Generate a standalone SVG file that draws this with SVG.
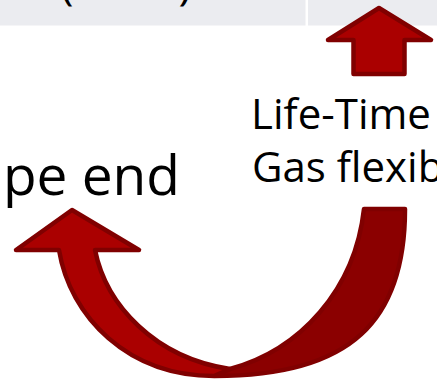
<svg xmlns="http://www.w3.org/2000/svg" width="437" height="383" viewBox="0 0 437 383">
  <style>
    .band { fill: #ebecf0; }
    .lbl { font-family: "Open Sans", "Noto Sans", "DejaVu Sans", sans-serif; fill: #000000; }
    .arrow { stroke: #800000; stroke-width: 4.5; stroke-linejoin: round; }
    .front { fill: #aa0000; }
    .back { fill: #8b0000; }
  </style>
  <rect width="437" height="383" fill="#ffffff"/>

  <!-- header cells -->
  <g id="header-left">
    <rect class="band" x="0" y="0" width="305.5" height="25.5"/>
    <text class="lbl" x="126" y="-1" font-size="44" text-anchor="middle">(costs)</text>
  </g>
  <g id="header-right">
    <rect class="band" x="308" y="0" width="129" height="25.5"/>
  </g>

  <!-- labels -->
  <g id="label-left">
    <text class="lbl" x="180" y="195" font-size="55" text-anchor="end">pe end</text>
  </g>
  <g id="label-right">
    <text class="lbl" x="251" y="128.5" font-size="42">Life-Time</text>
    <text class="lbl" x="252" y="182" font-size="42">Gas flexibility</text>
  </g>

  <!-- connectors -->
  <g id="connectors">
    <!-- straight up arrow -->
    <path class="arrow front" d="M379,8 L431,40 L404.5,40 L404.5,74 L353.5,74 L353.5,40 L328,40 Z"/>
    <!-- curved return arrow: back band -->
    <path class="arrow back" d="M364,209 L405,209 C405,320 352,376 215,376 L230,369 C300,350 355,290 364,209 Z"/>
    <!-- curved return arrow: front band with head -->
    <path class="arrow front" d="M72,210 L139,250 L95,250 C106,305 155,358 230,369 L214,376 C128,376 70,317 59,250 L16,250 Z"/>
  </g>
</svg>
